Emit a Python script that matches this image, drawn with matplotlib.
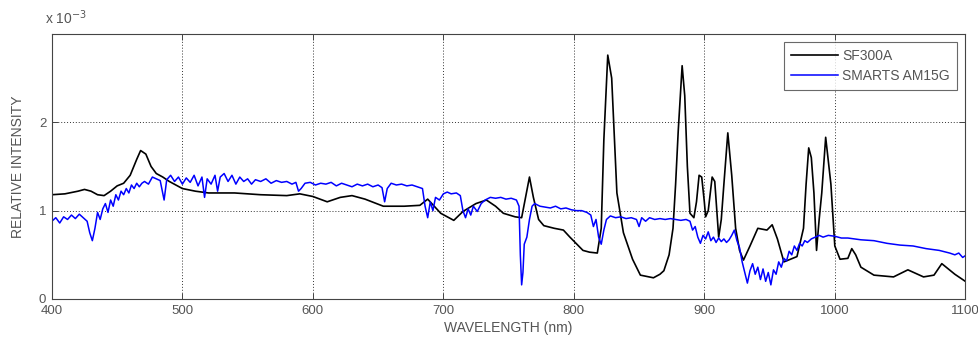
import matplotlib
matplotlib.use("Agg")
import matplotlib.pyplot as plt

# SF300A (black) - wavelength (nm) / relative intensity (x1e-3)
sf_wl = [400, 410, 420, 425, 430, 435, 440, 445, 450, 455, 460, 465, 468, 472, 476, 480, 485, 490,
         500, 510, 520, 540, 560, 580, 590, 600, 611, 621, 630, 640, 654, 670, 682, 688, 693, 698,
         708, 715, 725, 733, 740, 746, 755, 760, 763, 766, 769, 773, 777, 785, 792, 797, 807, 812,
         818, 821, 823, 826, 829, 833, 838, 845, 851, 861, 866, 869, 873, 876, 878, 880, 883, 885,
         887, 889, 892, 894, 896, 898, 900, 901, 903, 906, 908, 911, 913, 915, 918, 921, 924, 927,
         930, 935, 941, 948, 952, 956, 961, 966, 971, 976, 978, 980, 982, 984, 986, 988, 990, 993,
         997, 1000, 1004, 1010, 1013, 1016, 1020, 1030, 1045, 1056, 1068, 1076, 1082, 1087, 1092,
         1098, 1100]
sf_val = [1.18, 1.19, 1.22, 1.24, 1.22, 1.18, 1.17, 1.22, 1.28, 1.31, 1.40, 1.58, 1.68, 1.64, 1.50,
          1.42, 1.38, 1.33, 1.25, 1.22, 1.20, 1.20, 1.18, 1.17, 1.19, 1.16, 1.10, 1.15, 1.17, 1.13,
          1.05, 1.05, 1.06, 1.13, 1.05, 0.97, 0.89, 0.99, 1.08, 1.12, 1.05, 0.97, 0.93, 0.92, 1.15,
          1.38, 1.15, 0.90, 0.83, 0.80, 0.78, 0.70, 0.55, 0.53, 0.52, 0.80, 1.80, 2.76, 2.50, 1.20,
          0.75, 0.45, 0.27, 0.24, 0.28, 0.32, 0.50, 0.80, 1.30, 1.90, 2.64, 2.30, 1.50, 0.97, 0.92,
          1.10, 1.40, 1.38, 1.10, 0.93, 1.00, 1.38, 1.33, 0.70, 0.90, 1.30, 1.88, 1.40, 0.80, 0.55,
          0.44, 0.60, 0.80, 0.78, 0.84, 0.68, 0.42, 0.45, 0.48, 0.80, 1.30, 1.71, 1.60, 1.20, 0.55,
          0.90, 1.20, 1.83, 1.30, 0.60, 0.45, 0.46, 0.57, 0.50, 0.36, 0.27, 0.25, 0.33, 0.25, 0.27,
          0.40, 0.34, 0.28, 0.22, 0.20]

# SMARTS AM1.5G (blue)
sm_wl = [400, 403, 406, 409, 412, 415, 418, 421, 424, 427, 429, 431, 433, 435, 437, 439, 441, 443,
         445, 447, 449, 451, 453, 455, 457, 459, 461, 463, 465, 467, 469, 471, 474, 477, 480, 483,
         486, 488, 491, 494, 497, 500, 503, 506, 509, 512, 515, 517, 519, 522, 525, 527, 529, 532,
         535, 538, 541, 544, 547, 550, 553, 556, 560, 564, 568, 572, 576, 580, 584, 587, 589, 591,
         594, 598, 602, 606, 610, 614, 618, 622, 626, 630, 634, 638, 642, 646, 650, 653, 655, 657,
         660, 664, 668, 672, 676, 680, 684, 686, 688, 690, 692, 694, 697, 700, 703, 706, 710, 713,
         715, 717, 719, 721, 723, 726, 729, 732, 736, 740, 744, 748, 752, 756, 758, 759, 760, 761,
         762, 764, 766, 768, 770, 774, 778, 782, 786, 790, 794, 798, 802, 806, 810, 813, 815, 817,
         819, 821, 823, 825, 828, 832, 836, 840, 844, 848, 850, 852, 855, 858, 862, 866, 870, 874,
         878, 882, 886, 889, 891, 893, 895, 897, 899, 901, 903, 905, 907, 909, 911, 913, 915, 917,
         919, 921, 923, 925, 927, 929, 931, 933, 935, 937, 939, 941, 943, 945, 947, 949, 951, 953,
         955, 957, 959, 961, 963, 965, 967, 969, 971, 973, 975, 977, 979, 982, 985, 988, 991, 995,
         1000, 1005, 1010, 1020, 1030, 1040, 1050, 1060, 1070, 1080, 1088, 1092, 1095, 1098, 1100]
sm_val = [0.88, 0.92, 0.86, 0.93, 0.90, 0.95, 0.91, 0.96, 0.92, 0.88, 0.75, 0.66, 0.80, 0.98, 0.90,
          1.02, 1.08, 0.98, 1.12, 1.05, 1.18, 1.12, 1.22, 1.18, 1.25, 1.20, 1.29, 1.25, 1.31, 1.27,
          1.31, 1.33, 1.30, 1.38, 1.36, 1.34, 1.12, 1.35, 1.40, 1.33, 1.38, 1.30, 1.37, 1.32, 1.40,
          1.28, 1.38, 1.15, 1.36, 1.30, 1.40, 1.22, 1.38, 1.42, 1.33, 1.40, 1.30, 1.38, 1.33, 1.36,
          1.30, 1.35, 1.33, 1.36, 1.31, 1.34, 1.32, 1.33, 1.30, 1.32, 1.22, 1.25, 1.31, 1.32, 1.29,
          1.31, 1.30, 1.32, 1.28, 1.31, 1.29, 1.27, 1.30, 1.28, 1.30, 1.27, 1.29, 1.26, 1.10, 1.25,
          1.31, 1.29, 1.30, 1.28, 1.29, 1.27, 1.25, 1.05, 0.92, 1.10, 1.00, 1.15, 1.12, 1.19, 1.21,
          1.19, 1.20, 1.17, 1.00, 0.92, 1.02, 0.95, 1.05, 0.99, 1.08, 1.12, 1.15, 1.14, 1.15, 1.13,
          1.14, 1.12, 1.05, 0.50, 0.16, 0.30, 0.62, 0.70, 0.90, 1.05, 1.08, 1.05, 1.04, 1.03, 1.05,
          1.02, 1.03, 1.01, 1.00, 1.00, 0.98, 0.95, 0.82, 0.90, 0.70, 0.62, 0.78, 0.90, 0.94, 0.92,
          0.93, 0.91, 0.92, 0.90, 0.82, 0.92, 0.88, 0.92, 0.90, 0.91, 0.90, 0.91, 0.90, 0.89, 0.90,
          0.88, 0.78, 0.82, 0.70, 0.63, 0.72, 0.68, 0.76, 0.66, 0.70, 0.64, 0.69, 0.65, 0.68, 0.64,
          0.67, 0.72, 0.78, 0.66, 0.58, 0.42, 0.30, 0.18, 0.32, 0.40, 0.28, 0.36, 0.22, 0.34, 0.20,
          0.30, 0.16, 0.33, 0.28, 0.42, 0.36, 0.46, 0.43, 0.54, 0.50, 0.60, 0.55, 0.63, 0.60, 0.66,
          0.64, 0.68, 0.70, 0.72, 0.70, 0.72, 0.71, 0.69, 0.69, 0.67, 0.66, 0.63, 0.61, 0.60, 0.57,
          0.55, 0.52, 0.50, 0.52, 0.47, 0.49]

x_ticks = [400, 500, 600, 700, 800, 900, 1000, 1100]
y_ticks = [0, 1, 2]

plt.rcParams['font.family'] = ['Liberation Sans', 'DejaVu Sans']
fs = 9.5
txt_col = '#555555'

fig = plt.figure(figsize=(9.79, 3.39), dpi=100)
ax = fig.add_axes([0.053, 0.118, 0.933, 0.782])

ax.plot(sf_wl, sf_val, color='black', lw=1.2, label='SF300A')
ax.plot(sm_wl, sm_val, color='#0000ff', lw=1.1, label='SMARTS AM15G')

ax.set_xlim(400, 1100)
ax.set_ylim(0, 3)
ax.set_xticks(x_ticks)
ax.set_yticks(y_ticks)
ax.grid(True, color='#333333', linestyle=(0, (1, 2)), linewidth=0.7)
ax.tick_params(direction='in', length=4, width=0.7, top=True, right=True,
               labelsize=fs, labelcolor=txt_col, colors='#444444', pad=4)
for s in ax.spines.values():
    s.set_color('#444444')
    s.set_linewidth(0.8)

ax.set_xlabel('WAVELENGTH (nm)', fontsize=fs + 0.5, color=txt_col, labelpad=3)
ax.set_ylabel('RELATIVE INTENSITY', fontsize=fs + 0.5, color=txt_col, labelpad=10)
fig.text(0.046, 0.93, r'x 10$^{-3}$', fontsize=fs + 0.5, color=txt_col)

leg = ax.legend(loc='upper right', fontsize=fs + 0.5, frameon=True, fancybox=False,
                handlelength=3.4, handletextpad=0.3, borderaxespad=0.6, labelspacing=0.4,
                borderpad=0.5)
leg.get_frame().set_edgecolor('#444444')
leg.get_frame().set_linewidth(0.8)
for t in leg.get_texts():
    t.set_color(txt_col)

fig.savefig('out.png', dpi=100)
